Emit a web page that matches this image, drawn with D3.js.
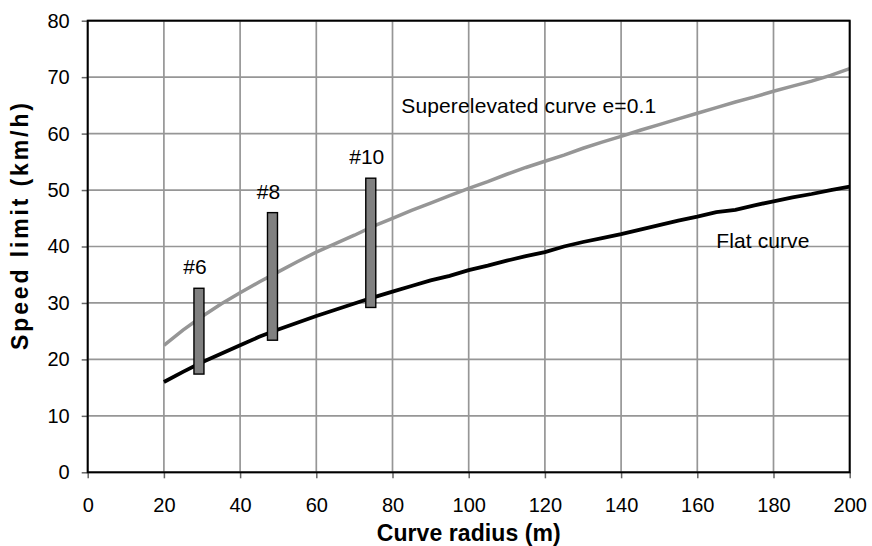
<!DOCTYPE html>
<html>
<head>
<meta charset="utf-8">
<script src="https://cdn.jsdelivr.net/npm/d3@7"></script>
<style>
  body { margin: 0; background: #fff; }
  text { font-family: "Liberation Sans", Arial, sans-serif; }
</style>
</head>
<body>
<div id="chart"></div>
<script>
// curve radius (m) -> speed limit (km/h)
const radius = [20, 25, 30, 35, 40, 45, 50, 55, 60, 65, 70, 75, 80, 85, 90, 95, 100,
  105, 110, 115, 120, 125, 130, 135, 140, 145, 150, 155, 160, 165, 170, 175, 180,
  185, 190, 195, 200];
const flatSpeed = [16.0, 17.8, 19.5, 21.0, 22.5, 24.0, 25.3, 26.5, 27.7, 28.8, 29.9,
  31.0, 32.0, 33.0, 34.0, 34.8, 35.8, 36.6, 37.5, 38.3, 39.0, 40.0, 40.8, 41.5, 42.2,
  43.0, 43.8, 44.6, 45.3, 46.1, 46.5, 47.3, 48.0, 48.7, 49.3, 50.0, 50.6];
const superSpeed = [22.5, 25.2, 27.6, 29.8, 31.8, 33.7, 35.5, 37.3, 39.0, 40.5, 42.0,
  43.6, 45.0, 46.4, 47.7, 49.0, 50.3, 51.5, 52.8, 54.0, 55.1, 56.2, 57.4, 58.5, 59.5,
  60.6, 61.6, 62.6, 63.6, 64.6, 65.6, 66.5, 67.5, 68.4, 69.3, 70.3, 71.5];

// measured ranges for the three test cases
const caseNames = ['#6', '#8', '#10'];
const caseRadius = [29.2, 48.5, 74.3];
const caseLow = [17.4, 23.4, 29.2];
const caseHigh = [32.6, 46.0, 52.1];

const xTicks = [0, 20, 40, 60, 80, 100, 120, 140, 160, 180, 200];
const yTicks = [0, 10, 20, 30, 40, 50, 60, 70, 80];

const margin = { top: 20.7, right: 22.3, bottom: 73.7, left: 87.7 };
const width = 872 - margin.left - margin.right;
const height = 546 - margin.top - margin.bottom;

const svg = d3.select('#chart').append('svg')
  .attr('width', 872)
  .attr('height', 546);

const g = svg.append('g')
  .attr('transform', `translate(${margin.left}, ${margin.top})`);

const x = d3.scaleLinear().domain([0, 200]).range([0, width]);
const y = d3.scaleLinear().domain([0, 80]).range([height, 0]);

// grid
g.append('g').selectAll('line')
  .data(xTicks)
  .enter()
  .append('line')
  .attr('x1', d => x(d)).attr('x2', d => x(d))
  .attr('y1', 0).attr('y2', height)
  .attr('stroke', '#969696')
  .attr('stroke-width', 1.7);

g.append('g').selectAll('line')
  .data(yTicks)
  .enter()
  .append('line')
  .attr('y1', d => y(d)).attr('y2', d => y(d))
  .attr('x1', 0).attr('x2', width)
  .attr('stroke', '#969696')
  .attr('stroke-width', 1.7);

// axes
const xAxis = d3.axisBottom(x).tickValues(xTicks).tickSize(6).tickPadding(20);
const yAxis = d3.axisLeft(y).tickValues(yTicks).tickSize(6).tickPadding(12);

const gx = g.append('g')
  .attr('transform', `translate(0, ${height})`)
  .call(xAxis);
const gy = g.append('g').call(yAxis);

[gx, gy].forEach((a) => {
  a.select('.domain').remove();
  a.selectAll('.tick line').attr('stroke', '#666').attr('stroke-width', 1.5);
  a.selectAll('.tick text')
    .attr('fill', '#000')
    .style('font-size', '20px')
    .style('font-family', '"Liberation Sans", Arial, sans-serif');
});

// curves
const line = d3.line()
  .x((d, i) => x(radius[i]))
  .y(d => y(d));

g.append('path')
  .attr('d', line(superSpeed))
  .attr('fill', 'none')
  .attr('stroke', '#969696')
  .attr('stroke-width', 3.5);

g.append('path')
  .attr('d', line(flatSpeed))
  .attr('fill', 'none')
  .attr('stroke', '#000')
  .attr('stroke-width', 3.8);

// range bars
const bars = g.append('g').selectAll('g')
  .data(caseNames)
  .enter()
  .append('g');

bars.append('rect')
  .attr('x', (d, i) => x(caseRadius[i]) - 5)
  .attr('y', (d, i) => y(caseHigh[i]))
  .attr('width', 10)
  .attr('height', (d, i) => y(caseLow[i]) - y(caseHigh[i]))
  .attr('fill', '#808080')
  .attr('stroke', '#000')
  .attr('stroke-width', 1.4);

bars.append('text')
  .attr('x', (d, i) => x(caseRadius[i]) - 4)
  .attr('y', (d, i) => y(caseHigh[i]) - 14)
  .attr('text-anchor', 'middle')
  .style('font-size', '21px')
  .text(d => d);

// plot border
g.append('rect')
  .attr('width', width)
  .attr('height', height)
  .attr('fill', 'none')
  .attr('stroke', '#000')
  .attr('stroke-width', 2);

// curve labels
g.append('text')
  .attr('x', x(82.3))
  .attr('y', y(63.7))
  .attr('textLength', 255)
  .attr('lengthAdjust', 'spacing')
  .style('font-size', '21px')
  .text('Superelevated curve e=0.1');

g.append('text')
  .attr('x', x(165))
  .attr('y', y(39.75))
  .attr('textLength', 93)
  .attr('lengthAdjust', 'spacing')
  .style('font-size', '21px')
  .text('Flat curve');

// axis titles
svg.append('text')
  .attr('x', margin.left + width / 2)
  .attr('y', 541)
  .attr('text-anchor', 'middle')
  .attr('textLength', 184)
  .style('font-size', '23px')
  .style('font-weight', 'bold')
  .text('Curve radius (m)');

svg.append('text')
  .attr('transform', 'translate(28, 226.5) rotate(-90)')
  .attr('text-anchor', 'middle')
  .attr('textLength', 247)
  .attr('lengthAdjust', 'spacing')
  .style('font-size', '23px')
  .style('font-weight', 'bold')
  .text('Speed limit (km/h)');
</script>
</body>
</html>
